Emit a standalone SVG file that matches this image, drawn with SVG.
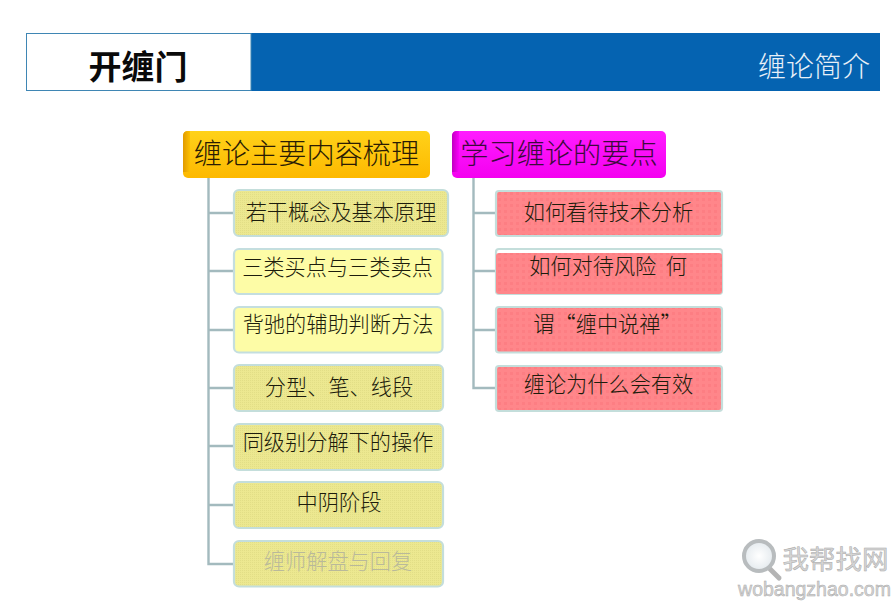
<svg xmlns="http://www.w3.org/2000/svg" width="895" height="608" viewBox="0 0 895 608">
<style>
text{font-family:"Noto Sans CJK SC","Noto Sans",sans-serif;text-anchor:middle;dominant-baseline:central}
.t{font-size:21.2px;font-weight:300;fill:#1c1c0c}
.h{font-size:28.2px;font-weight:300;fill:#2a1c04}
.c{fill:none;stroke:#a3babe;stroke-width:2.4}
.y{fill:#fdfca6;stroke:#c4dedf;stroke-width:2.2}
.d{fill:url(#dots);stroke:#c4dedb;stroke-width:2.2}
.r{fill:url(#reds);stroke:#c4dedb;stroke-width:2.2}
.wm{fill:#d6d6d6;stroke:#a9a9a9;stroke-width:.5}
</style>
<defs>
<pattern id="dots" width="2" height="2" patternUnits="userSpaceOnUse"><rect width="2" height="2" fill="#ecE890"/><rect width="1" height="1" fill="#e2de86"/></pattern>
<pattern id="reds" width="6" height="6" patternUnits="userSpaceOnUse"><rect width="6" height="6" fill="#ff868a"/><rect width="3" height="3" fill="#fd7e83"/></pattern>
<linearGradient id="og" x1="0" y1="0" x2="0" y2="1"><stop offset="0" stop-color="#ffd21a"/><stop offset="1" stop-color="#fdb900"/></linearGradient>
<linearGradient id="ol" x1="0" y1="0" x2="1" y2="0"><stop offset="0" stop-color="#e09a00"/><stop offset="1" stop-color="#fdc000"/></linearGradient>
<linearGradient id="mg" x1="0" y1="0" x2="0" y2="1"><stop offset="0" stop-color="#ff1cff"/><stop offset="1" stop-color="#f400f0"/></linearGradient>
<linearGradient id="ml" x1="0" y1="0" x2="1" y2="0"><stop offset="0" stop-color="#c000c0"/><stop offset="1" stop-color="#fa00fa"/></linearGradient>
<radialGradient id="lens"><stop offset="0" stop-color="#ffffff"/><stop offset="1" stop-color="#e4eaee"/></radialGradient>
</defs>
<rect width="895" height="608" fill="#fff"/>
<g id="header">
<rect x="251" y="33" width="629" height="58" fill="#0563b1"/>
<rect x="26.5" y="33.5" width="224.5" height="57" fill="#fff" stroke="#3f86b4"/>
<text x="138" y="64.500" font-size="33" font-weight="700" fill="#0a0a0a">开缠门</text>
<text x="814" y="64.500" font-size="28" font-weight="300" fill="#e8f0f8">缠论简介</text>
</g>
<g id="connectors">
<path class="c" d="M208.5 178V564H233M208.5 213H233M208.5 271H233M208.5 330H233M208.5 388H233M208.5 446H233M208.5 505H233"/>
<path class="c" d="M473.5 178V388H495M473.5 213H495M473.5 271H495M473.5 330H495"/>
</g>
<g id="root-left">
<rect x="183" y="131" width="247" height="47" rx="5" fill="url(#og)"/>
<path d="M188 131H190V172H183V136Q183 131 188 131Z" fill="url(#ol)"/>
<text class="h" x="306.500" y="151.500">缠论主要内容梳理</text>
</g>
<g id="root-right">
<rect x="452" y="131" width="214" height="47" rx="5" fill="url(#mg)"/>
<path d="M457 131H459V172H452V136Q452 131 457 131Z" fill="url(#ml)"/>
<text class="h" x="559" y="151.500" style="fill:#3c0a3c">学习缠论的要点</text>
</g>
<g id="l1"><rect class="d" x="234" y="190" width="214" height="46" rx="5"/><text class="t" x="341" y="210.500">若干概念及基本原理</text></g>
<g id="l2"><rect class="y" x="234" y="249" width="208.500" height="45" rx="5"/><text class="t" x="337.500" y="265.500">三类买点与三类卖点</text></g>
<g id="l3"><rect class="y" x="234" y="307" width="208.500" height="45.500" rx="5"/><text class="t" x="338" y="322.500">背驰的辅助判断方法</text></g>
<g id="l4"><rect class="d" x="234" y="365" width="209" height="46" rx="5"/><text class="t" x="339" y="385.500">分型、笔、线段</text></g>
<g id="l5"><rect class="d" x="234" y="424" width="209" height="46" rx="5"/><text class="t" x="338" y="440.500">同级别分解下的操作</text></g>
<g id="l6"><rect class="d" x="234" y="482" width="209" height="46" rx="5"/><text class="t" x="339" y="500.500">中阴阶段</text></g>
<g id="l7"><rect class="d" x="234" y="541" width="209" height="45.500" rx="5"/><text class="t" x="338" y="559.500" style="fill:#b9b99a">缠师解盘与回复</text></g>
<g id="r1"><rect class="r" x="496" y="191" width="226" height="45" rx="3"/><text class="t" x="608.500" y="210.500">如何看待技术分析</text></g>
<g id="r2"><rect x="496" y="249" width="226" height="45" rx="3" fill="#fff" stroke="#c4dedb" stroke-width="2.200"/><rect x="496" y="253" width="226" height="41" rx="3" fill="url(#reds)"/><text class="t" x="608" y="264.500" xml:space="preserve">如何对待风险  何</text></g>
<g id="r3"><rect class="r" x="496" y="307" width="226" height="45.500" rx="3"/><text class="t" x="607.500" y="322.500">谓“缠中说禅”</text></g>
<g id="r4"><rect class="r" x="496" y="366" width="226" height="45" rx="3"/><text class="t" x="608.500" y="382.500">缠论为什么会有效</text></g>
<g id="watermark">
<line x1="770" y1="569" x2="779" y2="578" stroke="#b4b4b4" stroke-width="5" stroke-linecap="round"/>
<circle cx="759" cy="556" r="15" fill="url(#lens)" stroke="#b8bcbe" stroke-width="4"/>
<text class="wm" x="835.500" y="557" font-size="26.500">我帮找网</text>
<text class="wm" x="814.500" y="589" font-size="19.500" style="font-family:'Liberation Sans',sans-serif">wobangzhao.com</text>
</g>
</svg>
